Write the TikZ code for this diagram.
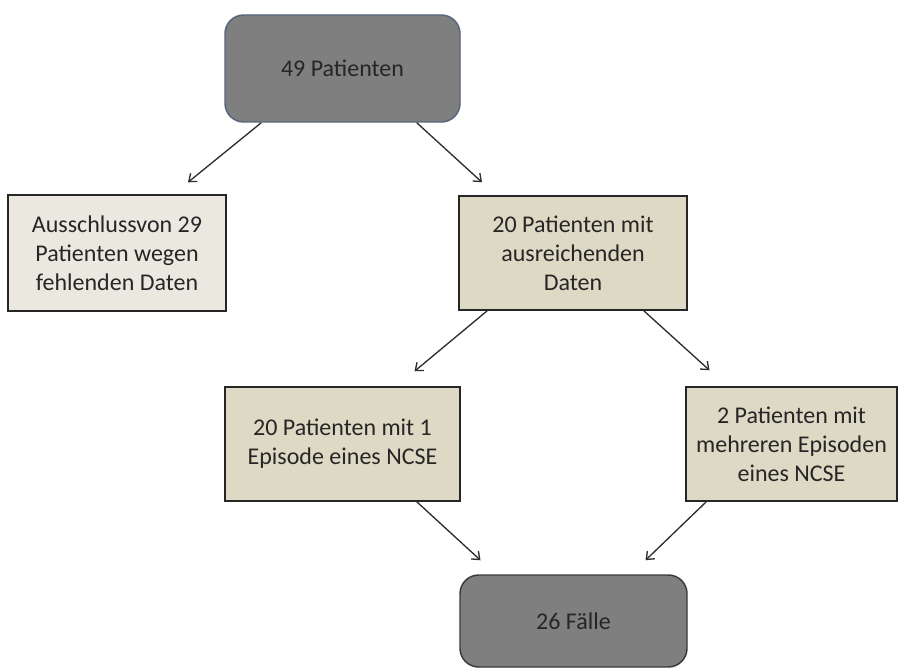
\documentclass[tikz,border=0pt]{standalone}
\usepackage{fontspec}
\setmainfont{Carlito}
\usetikzlibrary{arrows.meta}
\definecolor{greyfill}{HTML}{7F7F7F}
\definecolor{topborder}{HTML}{56657C}
\definecolor{botborder}{HTML}{3A3A3A}
\definecolor{beige}{HTML}{DDD9C4}
\definecolor{lightbeige}{HTML}{EBE8DF}
\definecolor{textc}{HTML}{262626}
\definecolor{arrowc}{HTML}{2E2E2E}
\begin{document}
\begin{tikzpicture}[x=0.75pt,y=-0.75pt,
  txt/.style={align=center,inner sep=0pt,font=\fontsize{18}{21.8}\selectfont,text=textc},
  greybox/.style={txt,draw=botborder,fill=greyfill,line width=1.1pt,rounded corners=14pt},
  beigebox/.style={txt,draw=black!85,fill=beige,line width=1.1pt},
  arr/.style={draw=arrowc,line width=1pt,-{Straight Barb[length=5pt,width=8pt]}}]
\useasboundingbox (0,0) rectangle (905,670);
\fill[white] (0,0) rectangle (905,670);

\node[greybox,draw=topborder,minimum width=176.25pt,minimum height=80.25pt] (top) at (342.5,68.5) {49 Patienten};
\node[beigebox,fill=lightbeige,minimum width=163.5pt,minimum height=87pt] (excl) at (117,253) {Ausschlussvon 29\\Patienten wegen\\fehlenden Daten};
\node[beigebox,minimum width=171pt,minimum height=85.5pt] (suff) at (573,253) {20 Patienten mit\\ausreichenden\\Daten};
\node[beigebox,minimum width=176.25pt,minimum height=85.5pt] (one) at (342.5,444) {20 Patienten mit 1\\Episode eines NCSE};
\node[beigebox,minimum width=158.25pt,minimum height=85.5pt] (multi) at (791.5,444) {2 Patienten mit\\mehreren Episoden\\eines NCSE};
\node[greybox,minimum width=170.25pt,minimum height=69pt] (cases) at (573.5,621) {26 Fälle};

\coordinate (e1) at ([shift={(71,-12)}]excl.north);
\coordinate (e2) at ([shift={(-91,-13)}]suff.north);
\coordinate (e3) at ([shift={(72,-15)}]one.north);
\coordinate (e4) at ([shift={(-82,-16)}]multi.north);
\coordinate (e5) at ([shift={(-93,-14)}]cases.north);
\coordinate (e6) at ([shift={(72,-14)}]cases.north);

\draw[arr] ([shift={(37,0)}]top.south west) -- (e1);
\draw[arr] ([shift={(-44,0)}]top.south east) -- (e2);
\draw[arr] ([shift={(29,0)}]suff.south west) -- (e3);
\draw[arr] ([shift={(-44,0)}]suff.south east) -- (e4);
\draw[arr] ([shift={(-44,0)}]one.south east) -- (e5);
\draw[arr] ([shift={(21,0)}]multi.south west) -- (e6);
\end{tikzpicture}
\end{document}
